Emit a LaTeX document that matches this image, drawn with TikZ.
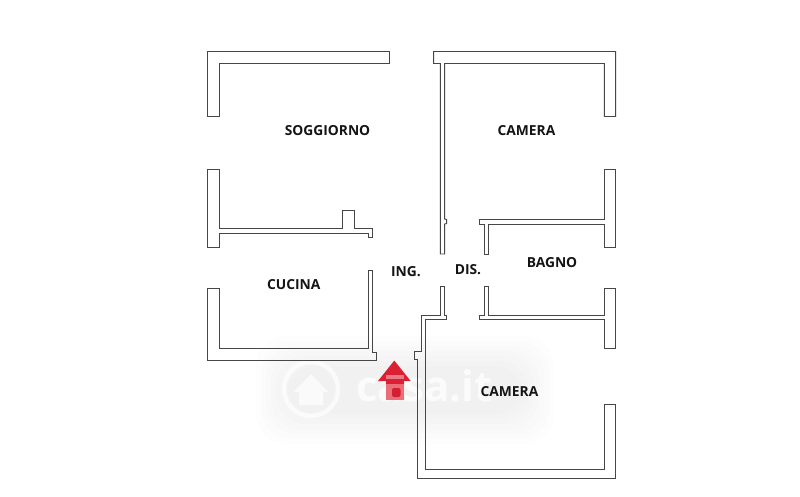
\documentclass[tikz,border=0pt]{standalone}
\usepackage{fontspec}
\setmainfont{Open Sans}
\usetikzlibrary{calc}
\definecolor{wallc}{RGB}{70,70,70}
\definecolor{redhead}{RGB}{218,32,50}
\definecolor{redshaft}{RGB}{234,110,120}
\definecolor{reddark}{RGB}{214,30,50}
\tikzset{
  wall/.style={draw=wallc,line width=0.95pt,line join=miter},
  roomlabel/.style={font=\fontsize{13.8}{15}\selectfont\bfseries,text=black!92,inner sep=0pt},
  wmtext/.style={font=\fontsize{42}{42}\selectfont\bfseries,text=white,inner sep=0pt}
}
\begin{document}
\begin{tikzpicture}[x=1pt,y=-1pt]
\useasboundingbox (0,0) rectangle (800,496);
\fill[white] (0,0) rectangle (800,496);
% soft watermark patch
\foreach \d in {0,5,10,15,20,25,30}{
  \fill[black!40,opacity=0.012,rounded corners=30pt] ({256+\d},{336+\d}) rectangle ({554-\d},{444-\d});
}
% watermark
\draw[white,line width=4.5pt,opacity=.7] (311,389) circle (27pt);
\fill[white,opacity=.7] (294,392) -- (311,374) -- (328,392) -- (323,392) -- (323,405) -- (299,405) -- (299,392) -- cycle;
\node[wmtext,opacity=.75,anchor=base west] (wm) at (356,401) {casa.it};
% walls
\draw[wall] (207,51.5) -- (389.5,51.5) -- (389.5,63.5) -- (219.5,63.5) -- (219.5,116.5) -- (207,116.5) -- cycle;
\draw[wall] (207,169.8) -- (219,169.8) -- (219,228.7) -- (342.7,228.7) -- (342.7,210.3) -- (354.3,210.3) -- (354.3,228.7) -- (372.3,228.7) -- (372.3,237.3) -- (368,237.3) -- (368,233) -- (219.4,233) -- (219.4,247.7) -- (207,247.7) -- cycle;
\draw[wall] (207,288.3) -- (219,288.3) -- (219,348.7) -- (368,348.7) -- (368,270.7) -- (372.3,270.7) -- (372.3,352) -- (376.7,352) -- (376.7,360) -- (207,360) -- cycle;
\draw[wall] (433.7,51.5) -- (615.6,51.5) -- (615.6,116.5) -- (604.3,116.5) -- (604.3,63.5) -- (444.7,63.5) -- (444.7,219) -- (446.7,219.5) -- (446.7,223.5) -- (444.7,224) -- (444.7,254) -- (440.4,254) -- (440.4,63.5) -- (433.7,63.5) -- cycle;
\draw[wall] (604.3,169.8) -- (615.6,169.8) -- (615.6,247.7) -- (604.3,247.7) -- (604.3,224) -- (488.7,224) -- (488.7,254) -- (484.7,254) -- (484.7,224) -- (479.3,224) -- (479.3,219.3) -- (604.3,219.3) -- cycle;
\draw[wall] (440.7,286) -- (444.3,286) -- (444.3,315) -- (446.3,315) -- (446.3,319.7) -- (425.7,319.7) -- (425.7,469.3) -- (604.3,469.3) -- (604.3,404) -- (615.6,404) -- (615.6,478.7) -- (417,478.7) -- (417,359.3) -- (414,359.3) -- (414,351) -- (421.3,351) -- (421.3,315) -- (440.7,315) -- cycle;
\draw[wall] (484.7,286) -- (488.7,286) -- (488.7,315) -- (604.3,315) -- (604.3,288.3) -- (615.6,288.3) -- (615.6,348.7) -- (604.3,348.7) -- (604.3,319.7) -- (479.3,319.7) -- (479.3,315) -- (484.7,315) -- cycle;
% entrance arrow
\fill[redshaft] (386,378) rectangle (404,400);
\fill[redhead] (394.3,360.5) -- (410.7,381) -- (378,381) -- cycle;
\fill[redhead!60!white] (386,375) rectangle (404,378.5);
\fill[redhead] (386,380) rectangle (404,384);
\fill[reddark,rounded corners=2pt] (392,388) rectangle (400.5,397);
% labels
\node[roomlabel] (soggiorno) at (327.5,131) {SOGGIORNO};
\node[roomlabel] (camera1) at (526.5,131) {CAMERA};
\node[roomlabel] (cucina) at (293.8,284.6) {CUCINA};
\node[roomlabel] (ing) at (406,271.6) {ING.};
\node[roomlabel] (dis) at (468,269.6) {DIS.};
\node[roomlabel] (bagno) at (552,262.6) {BAGNO};
\node[roomlabel] (camera2) at (509.5,391.6) {CAMERA};
\end{tikzpicture}
\end{document}
